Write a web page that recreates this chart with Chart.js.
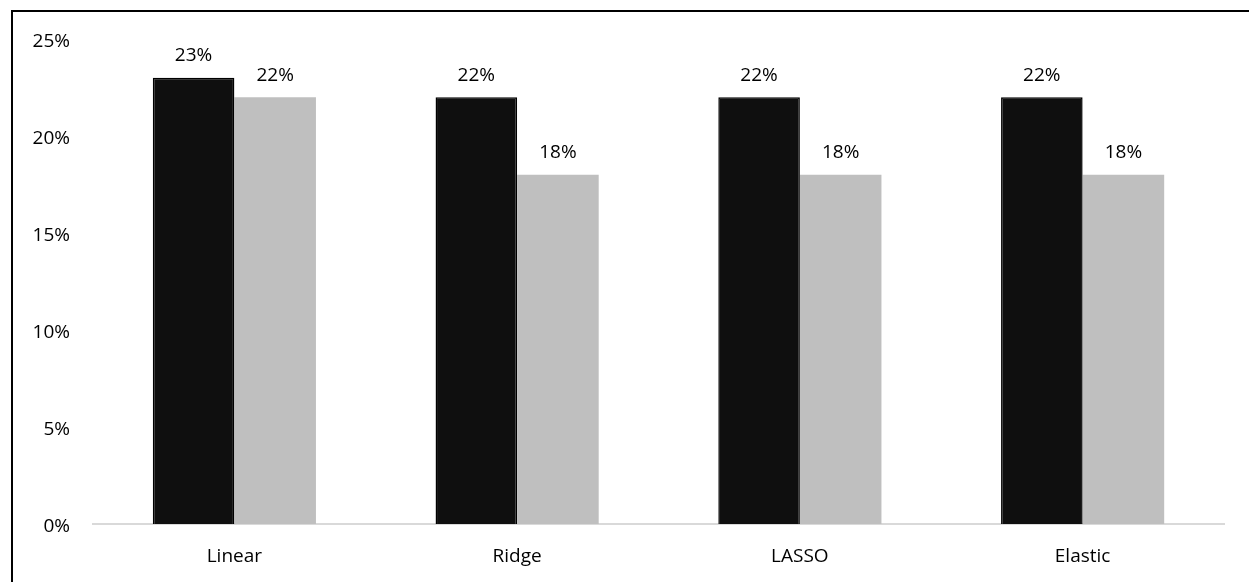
<!DOCTYPE html>
<html>
<head>
<meta charset="utf-8">
<style>
  html, body { margin: 0; padding: 0; background: #fff; overflow: hidden; }
  #wrap { position: relative; width: 1249px; height: 582px; }
  #frame { position: absolute; left: 11px; top: 10px; width: 1300px; height: 700px;
           border: 2px solid #000; box-sizing: border-box; pointer-events: none; }
  canvas { position: absolute; left: 0; top: 0; }
</style>
<script src="https://cdn.jsdelivr.net/npm/chart.js@4.4.0/dist/chart.umd.min.js"></script>
</head>
<body>
<div id="wrap">
  <canvas id="c" width="1249" height="582"></canvas>
  <div id="frame"></div>
</div>
<script>
// Model names and their error rates (percent)
const models = ['Linear', 'Ridge', 'LASSO', 'Elastic'];
const seriesA = [23, 22, 22, 22];
const seriesB = [22, 18, 18, 18];
const yTicks = [0, 5, 10, 15, 20, 25];

const FONT = { family: '"Open Sans", sans-serif', size: 19 };

// Writes each bar's value above it
const valueLabels = {
  id: 'valueLabels',
  afterDatasetsDraw(chart) {
    const ctx = chart.ctx;
    ctx.save();
    ctx.font = FONT.size + 'px ' + FONT.family;
    ctx.fillStyle = '#000';
    ctx.textAlign = 'center';
    ctx.textBaseline = 'middle';
    chart.data.datasets.forEach((ds, i) => {
      chart.getDatasetMeta(i).data.forEach((bar, j) => {
        ctx.fillText(ds.data[j] + '%', bar.x, bar.y - 22);
      });
    });
    ctx.restore();
  }
};

new Chart(document.getElementById('c'), {
  type: 'bar',
  data: {
    labels: models,
    datasets: [
      { label: 'Series 1', data: seriesA, backgroundColor: '#0f0f0f',
        borderColor: '#000', borderWidth: 1.5, borderSkipped: 'bottom' },
      { label: 'Series 2', data: seriesB, backgroundColor: '#bfbfbf', borderWidth: 0 }
    ]
  },
  options: {
    responsive: false,
    animation: false,
    layout: { padding: { left: 0, right: 25, top: 39, bottom: 0 } },
    plugins: { legend: { display: false }, tooltip: { enabled: false } },
    datasets: { bar: { barPercentage: 1, categoryPercentage: 0.577 } },
    scales: {
      x: {
        grid: { display: false, drawTicks: false },
        border: { display: true, color: '#d9d9d9', width: 2 },
        ticks: { color: '#000', font: FONT, padding: 21 },
        afterFit(s) { s.height = 58; }
      },
      y: {
        min: 0, max: 25,
        grid: { display: false, drawTicks: false },
        border: { display: false },
        afterBuildTicks(s) { s.ticks = yTicks.map(v => ({ value: v })); },
        ticks: { color: '#000', font: FONT, padding: 23, labelOffset: 3, callback: v => v + '%' },
        afterFit(s) { s.width = 93; }
      }
    }
  },
  plugins: [valueLabels]
});
</script>
</body>
</html>
